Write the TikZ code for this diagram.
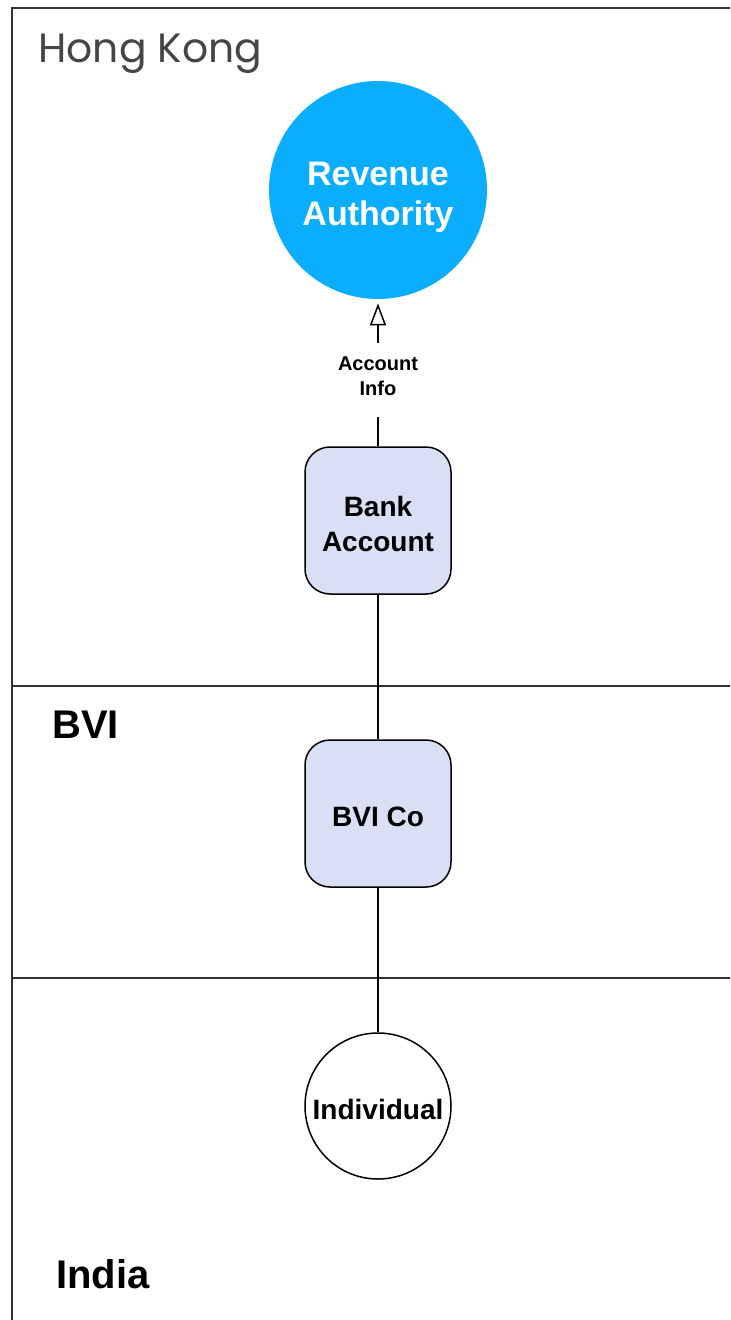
\documentclass[tikz,border=0pt]{standalone}
\usepackage{fontspec}
\setmainfont{Liberation Sans}
\newfontfamily\labelfont{Poppins}
\usetikzlibrary{arrows.meta}
\definecolor{revblue}{HTML}{0BAEFF}
\definecolor{boxfill}{HTML}{D9DFF5}
\definecolor{framegray}{HTML}{333333}
\definecolor{titlegray}{HTML}{454545}
% centred lines of text with extra room above (#1) and below (#2)
\newcommand\padlines[3]{\raisebox{0pt}[\dimexpr\height+#1\relax][\dimexpr\depth+#2\relax]{\begin{tabular}{@{}c@{}}#3\end{tabular}}}
\tikzset{
  entity/.style={draw=black, line width=0.75pt, fill=boxfill, rounded corners=12.5pt,
    minimum width=73pt, minimum height=73.5pt,
    font=\fontsize{14}{17.5}\selectfont\bfseries},
  person/.style={circle, draw=black, line width=0.75pt, fill=white, minimum size=73pt,
    inner sep=0pt, font=\fontsize{14}{17.5}\selectfont\bfseries},
  authority/.style={circle, fill=revblue, minimum size=109pt, inner sep=0pt,
    text=white, font=\fontsize{17}{20}\selectfont\bfseries},
  edgelabel/.style={inner xsep=2pt, inner ysep=4.75pt,
    font=\fontsize{10}{12.5}\selectfont\bfseries},
  region/.style={font=\fontsize{20}{24}\selectfont\bfseries, anchor=base west, inner sep=0pt},
  link/.style={draw=black, line width=0.75pt},
  frame/.style={draw=framegray, line width=1pt}
}
\begin{document}
\begin{tikzpicture}[x=0.5pt, y=-0.5pt]
  \useasboundingbox (0,0) rectangle (730,1320);
  \fill[white] (0,0) rectangle (730,1320);
  \begin{scope}
    \clip (0,0) rectangle (730,1320);
    % jurisdiction frame and separators
    \draw[frame] (12,1340) -- (12,8) -- (750,8);
    \draw[frame] (12,686) -- (750,686);
    \draw[frame] (12,978) -- (750,978);
  \end{scope}

  % region titles
  \node[anchor=base west, inner sep=0pt, text=titlegray,
        font=\labelfont\fontsize{20.45}{25}\selectfont] (hk) at (38,63) {Hong Kong};
  \node[region] (bvi) at (52,738) {BVI};
  \node[region] (india) at (56,1288) {India};

  % entities
  \node[authority] (rev) at (378,190) {\padlines{7.3pt}{0pt}{Revenue\\Authority}};
  \node[edgelabel] (info) at (378,380) {\padlines{0pt}{2.2pt}{Account\\Info}};
  \node[entity] (bank) at (378,520.5) {\padlines{6pt}{0pt}{Bank\\Account}};
  \node[entity] (bvico) at (378,813.5) {\padlines{6pt}{0pt}{BVI Co}};
  \node[person] (ind) at (378,1106) {\padlines{6pt}{0pt}{Individual}};

  % connectors
  \draw[link] (bank.north) -- (info.south);
  \draw[link, -{Triangle[open, length=11pt, width=8pt]}, shorten >=2pt] (info.north) -- (rev.south);
  \draw[link] (bank.south) -- (bvico.north);
  \draw[link] (bvico.south) -- (ind.north);
\end{tikzpicture}
\end{document}
